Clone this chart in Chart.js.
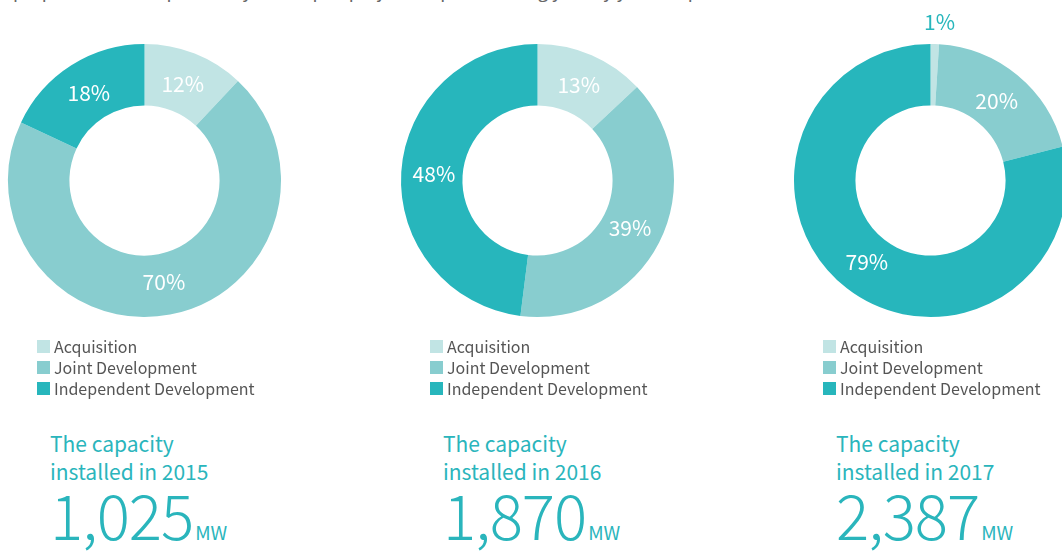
<!DOCTYPE html>
<html>
<head>
<meta charset="utf-8">
<script src="https://cdn.jsdelivr.net/npm/chart.js@4"></script>
<style>
  html, body { margin: 0; padding: 0; background: #fff; }
  body { width: 1062px; height: 553px; overflow: hidden; position: relative;
         font-family: 'Noto Sans CJK KR', 'Noto Sans', sans-serif; }
  .intro { position: absolute; left: 13px; top: -23px; font-size: 18px; color: #666; white-space: nowrap; }
  .col { position: absolute; top: 0; width: 393px; height: 553px; }
  .col canvas { position: absolute; left: -16px; top: 0; }
  .legend { position: absolute; left: 37px; top: 336px; font-size: 16px; color: #555; line-height: 21px; }
  .legend div { display: flex; align-items: center; white-space: nowrap; }
  .legend span { display: inline-block; width: 13px; height: 13px; margin-right: 4px; }
  .cap { position: absolute; left: 50px; top: 429px; font-size: 21px; line-height: 28px; color: #2ab5bc; }
  .num { position: absolute; left: 50px; top: 468px; color: #2ab5bc; white-space: nowrap; }
  .num b { font-weight: 300; font-size: 62px; letter-spacing: -1px; }
  .num i { font-style: normal; font-size: 19px; margin-left: 2px; }
</style>
</head>
<body>
<div class="intro">proportion of independently developed projects kept increasing year by year in operation</div>

<script>
let $ = document

// data
let years = ['2015', '2016', '2017']
let segmentLabels = ['Acquisition', 'Joint Development', 'Independent Development']
let acquisition = [12, 13, 1]
let jointDev = [70, 39, 20]
let independentDev = [18, 48, 79]
let capacityMW = ['1,025', '1,870', '2,387']
let colors = ['#c1e4e4', '#88cdcf', '#27b6bc']

// percentage labels on the ring
let pctLabels = {
    id: 'pctLabels',
    afterDatasetsDraw(chart) {
        let c = chart.ctx
        let meta = chart.getDatasetMeta(0)
        let values = chart.data.datasets[0].data
        c.save()
        c.font = '21px "Noto Sans CJK KR", "Noto Sans", sans-serif'
        c.textAlign = 'center'
        c.textBaseline = 'middle'
        meta.data.forEach((arc, i) => {
            let v = values[i]
            let mid = (arc.startAngle + arc.endAngle) / 2
            if (v < 5) {
                // small slice: put it outside, above the ring
                let r = arc.outerRadius + 22
                c.fillStyle = '#27b6bc'
                c.fillText(v + '%', arc.x + Math.cos(mid) * r + 4, arc.y + Math.sin(mid) * r)
            } else {
                let r = (arc.innerRadius + arc.outerRadius) / 2 - 2
                c.fillStyle = '#ffffff'
                c.fillText(v + '%', arc.x + Math.cos(mid) * r, arc.y + Math.sin(mid) * r)
            }
        })
        c.restore()
    }
}

years.forEach((year, i) => {
    let col = $.createElement('div')
    col.className = 'col'
    col.style.left = (i * 393) + 'px'
    let canvas = $.createElement('canvas')
    canvas.width = 321
    canvas.height = 341
    col.appendChild(canvas)

    let legend = $.createElement('div')
    legend.className = 'legend'
    segmentLabels.forEach((lab, k) => {
        legend.innerHTML += `<div><span style="background:${colors[k]}"></span>${lab}</div>`
    })
    col.appendChild(legend)

    let cap = $.createElement('div')
    cap.className = 'cap'
    cap.innerHTML = `The capacity<br>installed in ${year}`
    col.appendChild(cap)

    let num = $.createElement('div')
    num.className = 'num'
    num.innerHTML = `<b>${capacityMW[i]}</b><i>MW</i>`
    col.appendChild(num)

    $.body.appendChild(col)

    new Chart(canvas, {
        type: 'doughnut',
        data: {
            labels: segmentLabels,
            datasets: [{
                data: [acquisition[i], jointDev[i], independentDev[i]],
                backgroundColor: colors,
                borderWidth: 0
            }]
        },
        options: {
            responsive: false,
            animation: false,
            cutout: '55%',
            layout: { padding: { top: 44, bottom: 24, left: 24, right: 24 } },
            plugins: {
                legend: { display: false },
                tooltip: { enabled: false }
            }
        },
        plugins: [pctLabels]
    })
})
</script>
</body>
</html>
